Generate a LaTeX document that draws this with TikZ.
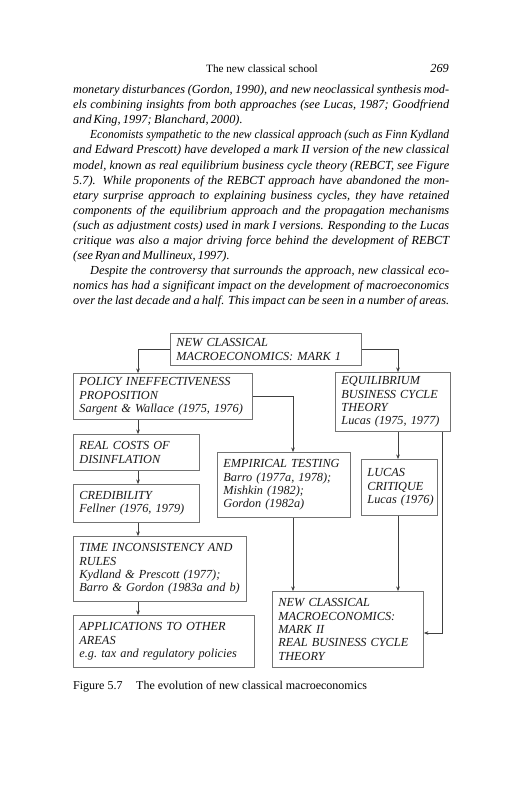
\documentclass[tikz,border=0pt]{standalone}
\usepackage{fontspec}
\usepackage{graphicx}
\setmainfont{Liberation Serif}
\usetikzlibrary{arrows.meta}
\begin{document}
\begin{tikzpicture}[x=1pt,y=-1pt,
  txt/.style={anchor=base west, inner sep=0pt, font=\fontsize{12.3}{15.1}\selectfont\itshape},
  bx/.style={draw=black!55, line width=0.9pt, anchor=north west, inner xsep=6pt, inner ysep=0pt,
    align=left, font=\fontsize{12.3}{13.4}\selectfont\itshape, text=black!90},
  ar/.style={draw=black!75, line width=0.6pt, -{Stealth[length=4.5pt,width=3.6pt]}}]
\useasboundingbox[fill=white] (0,0) rectangle (532,800);
% header
\node[anchor=base, inner sep=0pt, font=\fontsize{11.2}{14}\selectfont] (hd) at (262,72) {The new classical school};
\node[anchor=base east, inner sep=0pt, font=\fontsize{12.3}{15}\selectfont\itshape] (pg) at (449,72) {269};
% body text
\node[txt] (l1) at (73,93.5) {\makebox[376pt][s]{monetary disturbances (Gordon, 1990), and new neoclassical synthesis mod-}};
\node[txt] (l2) at (73,108.6) {\makebox[376pt][s]{els combining insights from both approaches (see Lucas, 1987; Goodfriend}};
\node[txt] (l3) at (73,123.7) {\makebox[168pt][s]{and King, 1997; Blanchard, 2000).}};
\node[txt] (l4) at (90,138.8) {\resizebox{359pt}{\height}{Economists sympathetic to the new classical approach (such as Finn Kydland}};
\node[txt] (l5) at (73,153.9) {\makebox[376pt][s]{and Edward Prescott) have developed a mark II version of the new classical}};
\node[txt] (l6) at (73,169.0) {\makebox[376pt][s]{model, known as real equilibrium business cycle theory (REBCT, see Figure}};
\node[txt] (l7) at (73,184.1) {\makebox[376pt][s]{5.7). While proponents of the REBCT approach have abandoned the mon-}};
\node[txt] (l8) at (73,199.2) {\makebox[376pt][s]{etary surprise approach to explaining business cycles, they have retained}};
\node[txt] (l9) at (73,214.3) {\makebox[376pt][s]{components of the equilibrium approach and the propagation mechanisms}};
\node[txt] (l10) at (73,229.4) {\makebox[376pt][s]{(such as adjustment costs) used in mark I versions. Responding to the Lucas}};
\node[txt] (l11) at (73,244.5) {\makebox[376pt][s]{critique was also a major driving force behind the development of REBCT}};
\node[txt] (l12) at (73,259.6) {\makebox[153pt][s]{(see Ryan and Mullineux, 1997).}};
\node[txt] (l13) at (90,274.7) {\makebox[359pt][s]{Despite the controversy that surrounds the approach, new classical eco-}};
\node[txt] (l14) at (73,289.8) {\makebox[376pt][s]{nomics has had a significant impact on the development of macroeconomics}};
\node[txt] (l15) at (73,304.9) {\makebox[376pt][s]{over the last decade and a half. This impact can be seen in a number of areas.}};
% boxes
\node[bx, text width=179pt, minimum height=32pt] (T) at (170,333) {NEW~CLASSICAL\\MACROECONOMICS:~MARK~1};
\node[bx, text width=167pt, minimum height=46pt] (P) at (73,373) {POLICY~INEFFECTIVENESS\\PROPOSITION\\Sargent~\&~Wallace~(1975,~1976)};
\node[bx, text width=114pt, minimum height=36pt] (R) at (73,434) {REAL~COSTS~OF\\DISINFLATION};
\node[bx, text width=114pt, minimum height=38pt] (C) at (73,484) {CREDIBILITY\\Fellner~(1976,~1979)};
\node[bx, text width=161pt, minimum height=65pt] (TI) at (73,536) {TIME~INCONSISTENCY~AND\\RULES\\Kydland~\&~Prescott~(1977);\\Barro~\&~Gordon~(1983a~and~b)};
\node[bx, text width=169pt, minimum height=52pt] (A) at (73,615) {APPLICATIONS~TO~OTHER\\AREAS\\e.g.~tax~and~regulatory~policies};
\node[bx, text width=121pt, minimum height=65pt] (E) at (217,452) {EMPIRICAL~TESTING\\Barro~(1977a,~1978);\\Mishkin~(1982);\\Gordon~(1982a)};
\node[bx, text width=103pt, minimum height=59pt] (EB) at (335,372) {EQUILIBRIUM\\BUSINESS~CYCLE\\THEORY\\Lucas~(1975,~1977)};
\node[bx, text width=64pt, minimum height=56pt] (LC) at (361,459) {LUCAS\\CRITIQUE\\Lucas~(1976)};
\node[bx, text width=139pt, minimum height=76pt] (M) at (272,591) {NEW~CLASSICAL\\MACROECONOMICS:\\MARK~II\\REAL~BUSINESS~CYCLE\\THEORY};
% column coordinates
\coordinate (cL) at (138,0);
\coordinate (cE) at (293,0);
\coordinate (cR) at (398,0);
\coordinate (cX) at (442.7,0);
\coordinate (cY) at (0,633);
% connectors
\draw[ar] (T.west) -| (P.north -| cL);
\draw[ar] (T.east) -| (EB.north -| cR);
\draw[ar] (P.south -| cL) -- (R.north -| cL);
\draw[ar] (R.south -| cL) -- (C.north -| cL);
\draw[ar] (C.south -| cL) -- (TI.north -| cL);
\draw[ar] (TI.south -| cL) -- (A.north -| cL);
\draw[ar] (P.east) -| (E.north -| cE);
\draw[ar] (E.south -| cE) -- (M.north -| cE);
\draw[ar] (EB.south -| cR) -- (LC.north -| cR);
\draw[ar] (LC.south -| cR) -- (M.north -| cR);
\draw[ar] (EB.south -| cX) |- (M.east |- cY);
% caption
\node[anchor=base west, inner sep=0pt, font=\fontsize{12}{15}\selectfont] (cap1) at (73,689) {Figure 5.7};
\node[anchor=base west, inner sep=0pt, font=\fontsize{12}{15}\selectfont] (cap2) at (136,689) {The evolution of new classical macroeconomics};
\end{tikzpicture}
\end{document}
